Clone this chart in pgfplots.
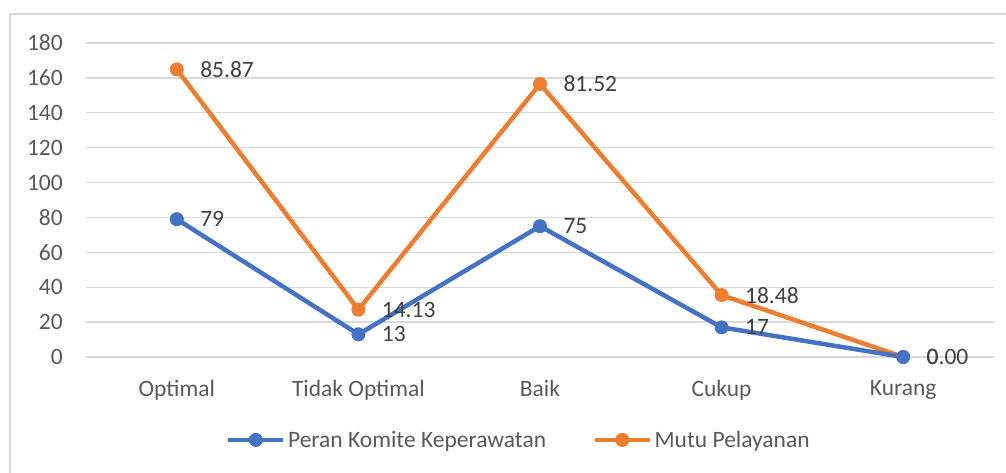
\documentclass[border=0pt]{standalone}
\usepackage{fontspec}
\setmainfont{Carlito}
\usepackage{pgfplots}
\usepackage{pgfplotstable}
\pgfplotsset{compat=1.18}
\definecolor{cblue}{HTML}{4472C4}
\definecolor{corange}{HTML}{ED7D31}
\definecolor{cgrid}{HTML}{D9D9D9}
\definecolor{ctick}{HTML}{595959}
\definecolor{clabel}{HTML}{404040}
\pgfplotstableread{
x peran mutu peranlbl mutulbl
0 79 85.87 79 85.87
1 13 14.13 13 14.13
2 75 81.52 75 81.52
3 17 18.48 17 18.48
4 0 0 0 0.00
}\datatable
\begin{document}
\begin{tikzpicture}[x=1pt,y=1pt]
\useasboundingbox (0,0) rectangle (1006,-473);
\draw[cgrid, line width=1.3pt] (10,-14) rectangle (1020,-490);
\begin{axis}[
  at={(86pt,-357pt)}, anchor=south west,
  scale only axis, width=908pt, height=314pt,
  xmin=-0.5, xmax=4.5, ymin=0, ymax=180,
  ytick={0,20,...,180},
  xtick={0,...,4},
  xticklabels={Optimal, Tidak Optimal, Baik, Cukup, Kurang},
  axis line style={draw=none},
  major tick length=0pt,
  ymajorgrids, major grid style={cgrid, line width=1.3pt},
  tick label style={font=\fontsize{23.5}{28}\selectfont, text=ctick},
  yticklabel style={/pgf/number format/assume math mode=true, inner sep=0pt, xshift=-23pt},
  xticklabel style={inner sep=0pt, yshift=-23pt},
  stack plots=y,
  clip=false,
  nodes near coords,
  point meta=explicit symbolic,
  every node near coord/.append style={font=\fontsize{23.5}{28}\selectfont, text=clabel, anchor=west, inner sep=0pt, xshift=23pt},
  legend columns=2,
  legend style={draw=none, fill=none, at={(0.477,-0.264)}, anchor=center, font=\fontsize{23.5}{28}\selectfont, text=ctick, /tikz/every even column/.append style={column sep=44pt}, nodes={inner sep=2.5pt}},
  legend image code/.code={\draw[mark repeat=2,mark phase=2,#1] plot coordinates {(0pt,0pt) (27.5pt,0pt) (55pt,0pt)};},
]
\addplot[cblue, line width=4.5pt, mark=*, mark size=6.5pt, mark options={solid, line width=1pt, fill=cblue}] table[x=x, y=peran, meta=peranlbl] {\datatable};
\addlegendentry{Peran Komite Keperawatan}
\addplot[corange, line width=4.5pt, mark=*, mark size=6.5pt, mark options={solid, line width=1pt, fill=corange}] table[x=x, y=mutu, meta=mutulbl] {\datatable};
\addlegendentry{Mutu Pelayanan}
\end{axis}
\end{tikzpicture}
\end{document}
